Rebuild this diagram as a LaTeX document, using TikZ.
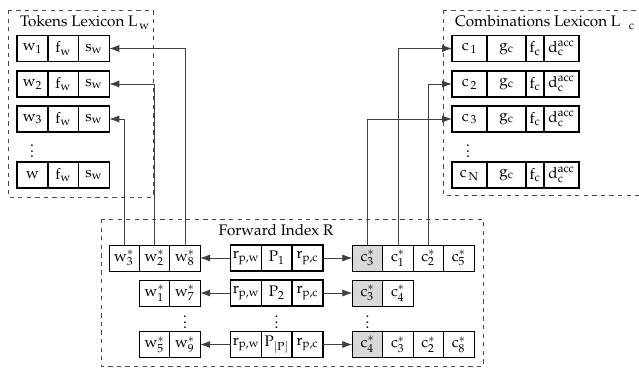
\documentclass[tikz,border=0pt]{standalone}
\usepackage[T1]{fontenc}
\usepackage{mathpazo}
\usepackage{tikz}
\usetikzlibrary{arrows.meta, positioning}

\begin{document}
\begin{tikzpicture}[x=0.7pt, y=-0.7pt,
    every node/.style={font=\fontsize{10.7}{13}\selectfont},
    lexcell/.style={draw, line width=1pt, inner sep=0pt, outer sep=0pt,
      minimum height=18.2pt, minimum width=21.5pt},
    fwcell/.style={draw, line width=0.5pt, inner sep=0pt, outer sep=0pt,
      minimum height=18.2pt, minimum width=21.3pt},
    hlcell/.style={fwcell, fill=black!15},
    dotsnode/.style={inner sep=0pt},
    region/.style={draw=black!70, dashed, line width=0.6pt},
    link/.style={draw=black!75, line width=0.6pt, -{Latex[length=7pt, width=5pt]}}]

\useasboundingbox (0,0) rectangle (639,370);

% frames
\draw[region] (8,10) rectangle (153,197);
\draw[region] (443,10) rectangle (650,195);
\draw[region] (101,219) rectangle (483,366);

\node[anchor=base west] (tokTitle) at (15,27) {Tokens Lexicon L$_{\,\mathrm{w}}$};
\node[anchor=base west] (combTitle) at (450,27) {Combinations Lexicon L$_{\hspace{6pt}\mathrm{c}}$};
\node[anchor=base] (fwdTitle) at (276,235) {Forward Index R};

% tokens lexicon
\foreach \i/\y in {1/48.5, 2/84, 3/119} {
  \node[lexcell] (tw\i) at (32.5,\y) {w$_\i$};
  \node[lexcell, right=0pt of tw\i] (tf\i) {f$_\mathrm{w}$};
  \node[lexcell, right=0pt of tf\i] (ts\i) {s$_\mathrm{w}$};
}
\node[dotsnode] (tdots) at (32,147) {$\vdots$};
\node[lexcell] (tw4) at (32.5,175) {w};
\node[lexcell, right=0pt of tw4] (tf4) {f$_\mathrm{w}$};
\node[lexcell, right=0pt of tf4] (ts4) {s$_\mathrm{w}$};

% combinations lexicon
\foreach \i/\y in {1/48.5, 2/84, 3/119, N/175} {
  \node[lexcell, minimum width=24.5pt] (cc\i) at (469.5,\y) {c$_{\,\mathrm{\i}}$};
  \node[lexcell, minimum width=27.3pt, right=0pt of cc\i] (cg\i) {g$_\mathrm{c}$};
  \node[lexcell, minimum width=12.6pt, right=0pt of cg\i] (cf\i) {f$_\mathrm{c}$};
  \node[lexcell, minimum width=24.5pt, right=0pt of cf\i] (cd\i) {d$_\mathrm{c}^{\mathrm{acc}}$};
}
\node[dotsnode] (cdots) at (468,147) {$\vdots$};

% forward index, row 1
\node[lexcell] (pr1w) at (246,258) {r$_\mathrm{p,w}$};
\node[lexcell, right=0pt of pr1w] (pp1) {P$_1$};
\node[lexcell, right=0pt of pp1] (pr1c) {r$_\mathrm{p,c}$};
\node[fwcell] (a8) at (185,258) {w$^*_8$};
\node[fwcell, left=0pt of a8] (a2) {w$^*_2$};
\node[fwcell, left=0pt of a2] (a3) {w$^*_3$};
\node[hlcell] (k3) at (367.5,258) {c$^*_3$};
\node[fwcell, right=0pt of k3] (k1) {c$^*_1$};
\node[fwcell, right=0pt of k1] (k2) {c$^*_2$};
\node[fwcell, right=0pt of k2] (k5) {c$^*_5$};

% row 2
\node[lexcell] (pr2w) at (246,293) {r$_\mathrm{p,w}$};
\node[lexcell, right=0pt of pr2w] (pp2) {P$_2$};
\node[lexcell, right=0pt of pp2] (pr2c) {r$_\mathrm{p,c}$};
\node[fwcell] (b7) at (185,293) {w$^*_7$};
\node[fwcell, left=0pt of b7] (b1) {w$^*_1$};
\node[hlcell] (m3) at (367.5,293) {c$^*_3$};
\node[fwcell, right=0pt of m3] (m4) {c$^*_4$};

% dots
\node[dotsnode] (bdots) at (185,318) {$\vdots$};
\node[dotsnode] (pdots) at (276.5,318) {$\vdots$};
\node[dotsnode] (mdots) at (367.5,318) {$\vdots$};

% last row
\node[lexcell] (pr3w) at (246,344.5) {r$_\mathrm{p,w}$};
\node[lexcell, right=0pt of pr3w] (pp3) {P$_{|\mathrm{P}|}$};
\node[lexcell, right=0pt of pp3] (pr3c) {r$_\mathrm{p,c}$};
\node[fwcell] (e9) at (185,344.5) {w$^*_9$};
\node[fwcell, left=0pt of e9] (e5) {w$^*_5$};
\node[hlcell] (n4) at (367.5,344.5) {c$^*_4$};
\node[fwcell, right=0pt of n4] (n3) {c$^*_3$};
\node[fwcell, right=0pt of n3] (n2) {c$^*_2$};
\node[fwcell, right=0pt of n2] (n8) {c$^*_8$};

% pointers
\draw[link] (pr1w) -- (a8);
\draw[link] (pr2w) -- (b7);
\draw[link] (pr3w) -- (e9);
\draw[link] (pr1c) -- (k3);
\draw[link] (pr2c) -- (m3);
\draw[link] (pr3c) -- (n4);

\draw[link] (a3.north) |- (ts3.east);
\draw[link] (a2.north) |- (ts2.east);
\draw[link] (a8.north) |- (ts1.east);
\draw[link] (k3.north) |- (cc3.west);
\draw[link] (k1.north) |- (cc1.west);
\draw[link] (k2.north) |- (cc2.west);
\end{tikzpicture}
\end{document}
